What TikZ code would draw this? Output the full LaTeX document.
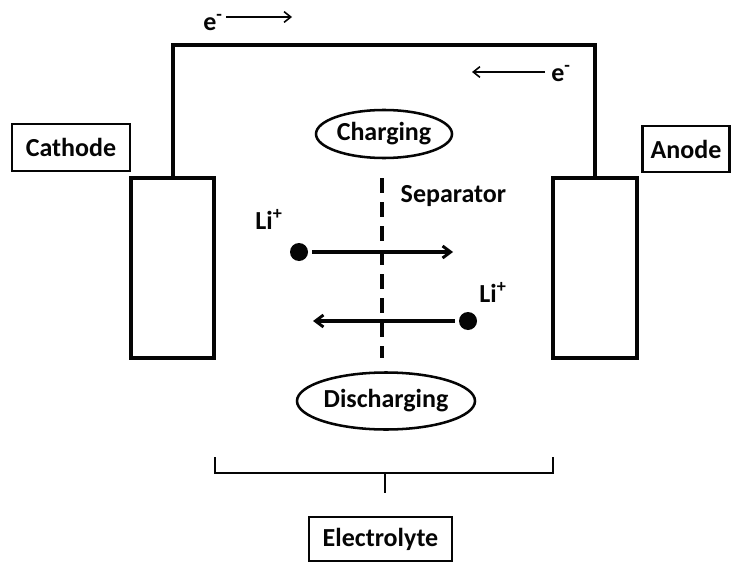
\documentclass[tikz,border=0pt]{standalone}
\usepackage{fontspec}
\setmainfont{Carlito}
\usetikzlibrary{shapes.geometric,arrows.meta}
\begin{document}
\begin{tikzpicture}[x=0.75pt, y=-0.75pt, wire/.style={line width=3pt, cellInk}, box/.style={draw=cellInk, line width=2pt, rectangle, inner sep=0pt}, label/.style={font=\fontsize{19.5}{22}\selectfont\bfseries, text=cellInk}, tag/.style={box, label, line width=1.8pt}, electrode/.style={box, line width=2.4pt, minimum width=62.25pt, minimum height=135pt}, mode/.style={draw=cellInk, ellipse, line width=1.9pt, inner sep=0pt, label}, ion/.style={circle, fill=cellInk, inner sep=0pt, minimum size=13.5pt}, flow/.style={-{Straight Barb[length=6pt, width=9pt, line width=2.2pt]}, line width=2.4pt, cellInk}, drift/.style={-{Straight Barb[length=5pt, width=8pt]}, line width=1.2pt, cellInk}, sep/.style={line width=2.4pt, cellInk, dash pattern=on 11pt off 7pt}, brace/.style={line width=1.6pt, cellInk}]
\definecolor{cellInk}{rgb}{0.02,0.02,0.02}
\useasboundingbox (0,0) rectangle (731,563);
\node[electrode] (catel) at (172.5,268) {};
\node[electrode, minimum width=63pt] (anel) at (595,268) {};
\node[tag, minimum width=88.5pt, minimum height=35.25pt] (cathode) at (71,147.5) {Cathode};
\node[tag, minimum width=65pt, minimum height=34.5pt] (anode) at (686,149) {Anode};
\node[tag, minimum width=107.25pt, minimum height=33pt] (electrolyte) at (380.5,539) {Electrolyte};
\coordinate (wl) at (172.5,45);
\coordinate (wr) at (595,45);
\draw[wire] (catel.north) -- (wl) -- (wr) -- (anel.north);
\node[label] (etop) at (213,23) {e\textsuperscript{-}};
\node[label] (eback) at (561,74) {e\textsuperscript{-}};
\coordinate (etopa) at (226,17);
\coordinate (etopb) at (292,17);
\coordinate (ebacka) at (545,72);
\coordinate (ebackb) at (472,72);
\draw[drift] (etopa) -- (etopb);
\draw[drift] (ebacka) -- (ebackb);
\node[mode, minimum width=102pt, minimum height=36pt] (charging) at (384,134) {Charging};
\node[mode, minimum width=133.5pt, minimum height=42.75pt] (discharging) at (386,401) {Discharging};
\coordinate (septop) at (382,178);
\coordinate (sepbot) at (382,358);
\draw[sep] (septop) -- (sepbot);
\node[label, anchor=west] (separator) at (396,196) {Separator};
\node[label] (lileft) at (269,219) {Li\textsuperscript{+}};
\node[ion] (ionleft) at (299,252) {};
\coordinate (goright) at (453,252);
\draw[flow] (ionleft.east) ++(4,0) -- (goright);
\node[label] (liright) at (493,292) {Li\textsuperscript{+}};
\node[ion] (ionright) at (468,321) {};
\coordinate (goleft) at (313,321);
\draw[flow] (ionright.west) ++(-4,0) -- (goleft);
\coordinate (brl) at (215,457);
\coordinate (brr) at (553,457);
\coordinate (brtick) at (385,493);
\draw[brace] (brl) -- (215,473) -- (553,473) -- (brr);
\draw[brace] (385,473) -- (brtick);
\end{tikzpicture}
\end{document}
